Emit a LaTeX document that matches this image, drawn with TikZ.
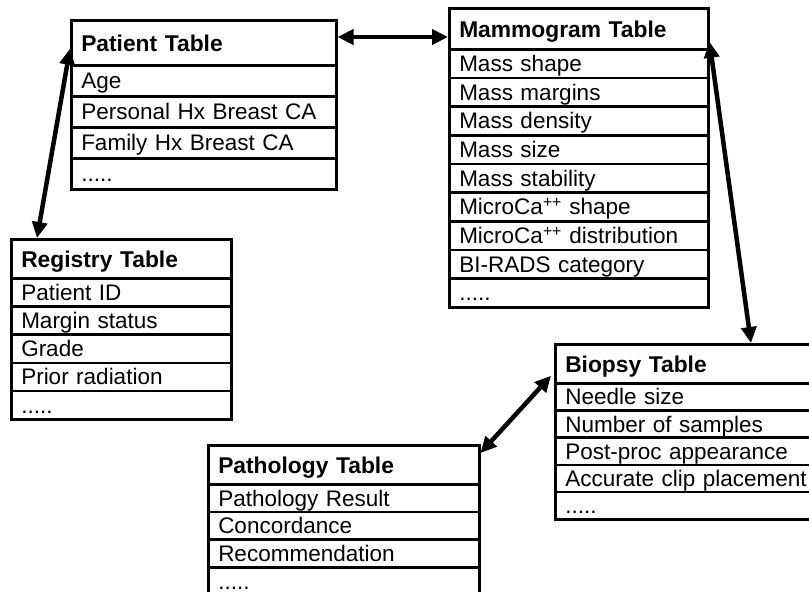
\documentclass[tikz,border=0pt]{standalone}
\usepackage{fontspec}
\setmainfont{Liberation Sans}
\usetikzlibrary{arrows.meta}

\newcommand{\etcrow}{.....}

\tikzset{
  cell/.style 2 args={draw, line width=2.5pt, anchor=north west, inner xsep=10pt, inner ysep=0pt,
    text width=#1, minimum height=#2, align=left, text height=17pt, text depth=1pt,
    font=\fontsize{22.5}{24}\selectfont},
  head/.style 2 args={cell={#1}{#2}, text height=18pt, text depth=0pt,
    font=\fontsize{22.8}{24}\selectfont\bfseries},
  link/.style={{Triangle[length=16pt,width=15pt]}-{Triangle[length=16pt,width=15pt]}, line width=4.5pt},
}

\begin{document}
\begin{tikzpicture}[x=1pt, y=-1pt]
  \useasboundingbox (0,0) rectangle (809,592);

  % Patient table
  \node[head={245pt}{45pt}] (pat) at (70,19) {Patient Table};
  \foreach \row [count=\k] in {Age, Personal Hx Breast CA, Family Hx Breast CA, \etcrow}
    \node[cell={245pt}{31pt}] (pat\k) at (70,{64+31*(\k-1)}) {\row};

  % Mammogram table
  \node[head={239pt}{41pt}] (mam) at (448,7) {Mammogram Table};
  \foreach \row [count=\k] in {Mass shape, Mass margins, Mass density, Mass size, Mass stability,
      MicroCa\textsuperscript{++} shape, MicroCa\textsuperscript{++} distribution, BI-RADS category, \etcrow}
    \node[cell={239pt}{28.67pt}] (mam\k) at (448,{48+28.67*(\k-1)}) {\row};

  % Registry table
  \node[head={200pt}{39pt}] (reg) at (10,238) {Registry Table};
  \foreach \row [count=\k] in {Patient ID, Margin status, Grade, Prior radiation, \etcrow}
    \node[cell={200pt}{28.2pt}] (reg\k) at (10,{277+28.2*(\k-1)}) {\row};

  % Biopsy table (runs past the right edge)
  \node[head={252pt}{39pt}] (bio) at (554,343) {Biopsy Table};
  \foreach \row [count=\k] in {Needle size, Number of samples, Post-proc appearance, Accurate clip placement, \etcrow}
    \node[cell={252pt}{27.2pt}] (bio\k) at (554,{382+27.2*(\k-1)}) {\row};

  % Pathology table (runs past the bottom edge)
  \node[head={251pt}{39pt}] (pth) at (207,444) {Pathology Table};
  \foreach \row [count=\k] in {Pathology Result, Concordance, Recommendation, \etcrow}
    \node[cell={251pt}{27.7pt}] (pth\k) at (207,{483+27.7*(\k-1)}) {\row};

  % Links
  \draw[link] ([yshift=-18pt]pat.north east) -- ([yshift=-18pt]pat.north east -| mam.west);
  \draw[link] ([yshift=-6pt]pat.west) -- ([xshift=27pt]reg.north west);
  \draw[link] ([yshift=-13pt]mam.east) -- ([xshift=197pt]bio.north west);
  \draw[link] ([xshift=-3pt,yshift=-12pt]bio.west) -- ([yshift=-9pt]pth.north east);
\end{tikzpicture}
\end{document}
